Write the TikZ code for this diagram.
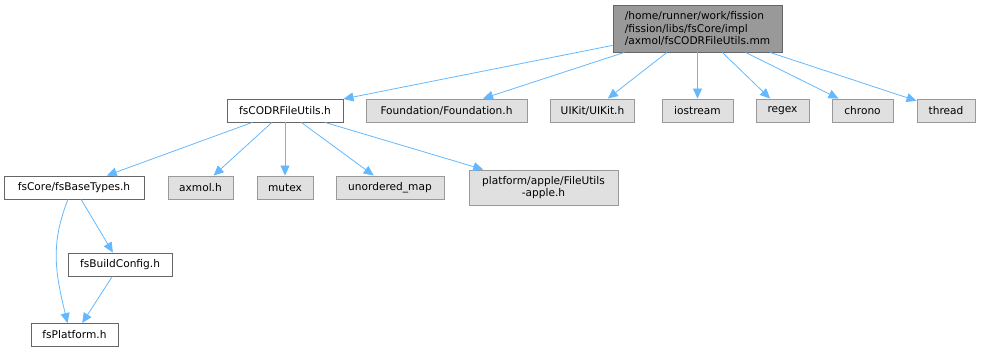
\documentclass[tikz,border=0pt]{standalone}
\usepackage{fontspec}
\setmainfont{DejaVu Sans}
\usetikzlibrary{arrows.meta}
\definecolor{edgec}{HTML}{63B8FF}
\definecolor{grayfill}{HTML}{E0E0E0}
\definecolor{grayline}{HTML}{999999}
\definecolor{topfill}{HTML}{999999}
\definecolor{darkline}{HTML}{666666}
\begin{document}
\begin{tikzpicture}[x=1pt,y=-1pt,
  box/.style={draw=darkline,line width=0.9pt,fill=white,inner sep=0pt,font=\fontsize{10.6}{12.3}\selectfont,minimum height=23pt},
  extbox/.style={box,draw=grayline,fill=grayfill},
  topbox/.style={box,fill=topfill,draw=darkline,align=left},
  dep/.style={draw=edgec,line width=0.8pt,-{Triangle[length=10pt,width=9pt]}}]
\useasboundingbox (0,0) rectangle (981,352);
\node[topbox,minimum width=169pt,minimum height=47pt] (top) at (697.5,28.5) {/home/runner/work/fission\\/fission/libs/fsCore/impl\\/axmol/fsCODRFileUtils.mm};
\node[box,minimum width=116pt] (codr) at (285,110.5) {fsCODRFileUtils.h};
\node[extbox,minimum width=161pt] (found) at (446.5,110.5) {Foundation/Foundation.h};
\node[extbox,minimum width=84pt] (uikit) at (592.5,110.5) {UIKit/UIKit.h};
\node[extbox,minimum width=71pt] (ios) at (697.5,110.5) {iostream};
\node[extbox,minimum width=53pt] (regex) at (782.5,110.5) {regex};
\node[extbox,minimum width=61pt] (chrono) at (862.5,110.5) {chrono};
\node[extbox,minimum width=58pt] (thread) at (946,110.5) {thread};
\node[box,minimum width=140pt] (base) at (74,187.5) {fsCore/fsBaseTypes.h};
\node[extbox,minimum width=65pt] (axmol) at (200.5,187.5) {axmol.h};
\node[extbox,minimum width=56pt] (mutex) at (285,187.5) {mutex};
\node[extbox,minimum width=108pt] (umap) at (390,187.5) {unordered\_map};
\node[extbox,minimum width=149pt,minimum height=35pt,align=center] (plat) at (543.5,187.5) {platform/apple/FileUtils\\-apple.h};
\node[box,minimum width=104pt] (cfg) at (120,264.5) {fsBuildConfig.h};
\node[box,minimum width=87pt] (fsplat) at (74.5,335) {fsPlatform.h};
\draw[dep] (top) -- (codr);
\draw[dep] (top) -- (found);
\draw[dep] (top) -- (uikit);
\draw[dep] (top) -- (ios);
\draw[dep] (top) -- (regex);
\draw[dep] (top) -- (chrono);
\draw[dep] (top) -- (thread);
\draw[dep] (codr) -- (base);
\draw[dep] (codr) -- (axmol);
\draw[dep] (codr) -- (mutex);
\draw[dep] (codr) -- (umap);
\draw[dep] (codr) -- (plat);
\draw[dep] ([xshift=-6pt]base.south) .. controls +(-18,45) and +(-12,-50) .. ([xshift=-7pt]fsplat.north);
\draw[dep] (base) -- (cfg);
\draw[dep] (cfg) -- (fsplat);
\end{tikzpicture}
\end{document}
